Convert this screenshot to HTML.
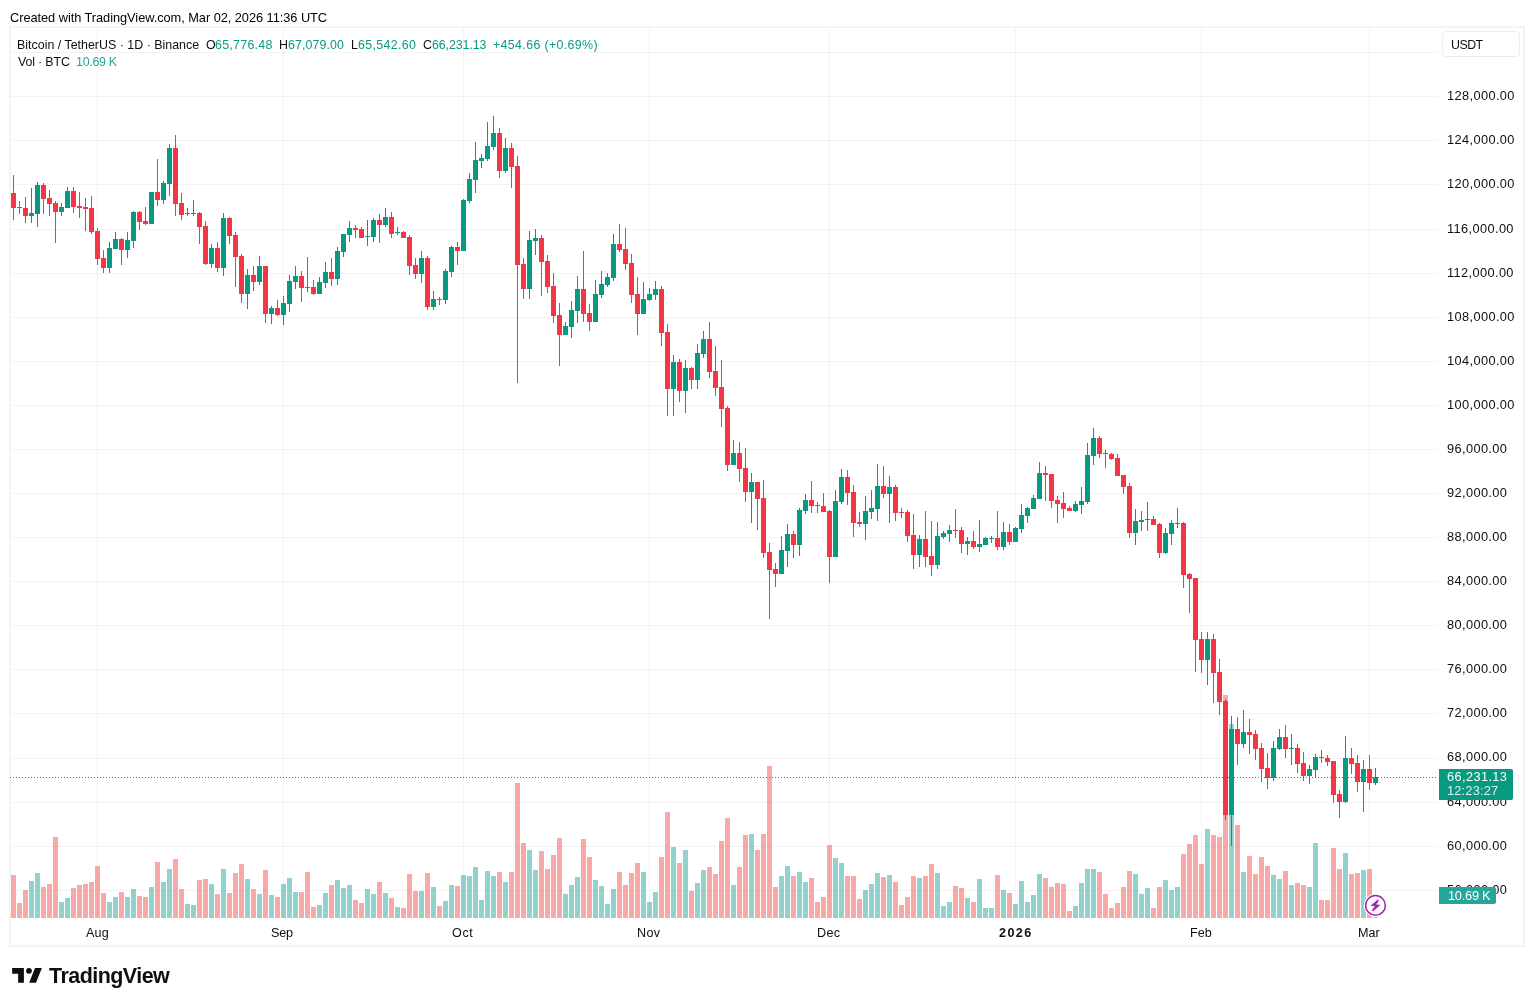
<!DOCTYPE html><html lang="en"><head><meta charset="utf-8"><title>BTCUSDT</title><style>
html,body{margin:0;padding:0;background:#fff;}
body{width:1534px;height:1006px;position:relative;overflow:hidden;font-family:"Liberation Sans",sans-serif;color:#0f0f0f;}
.t{position:absolute;white-space:nowrap;line-height:20px;height:20px;will-change:transform;}
</style></head><body>
<svg width="1534" height="1006" viewBox="0 0 1534 1006" shape-rendering="crispEdges" style="position:absolute;left:0;top:0">
<path fill="rgba(46,46,46,0.06)" d="M11 52h1427v1h-1427zM11 96h1427v1h-1427zM11 140h1427v1h-1427zM11 184h1427v1h-1427zM11 229h1427v1h-1427zM11 273h1427v1h-1427zM11 317h1427v1h-1427zM11 361h1427v1h-1427zM11 405h1427v1h-1427zM11 449h1427v1h-1427zM11 493h1427v1h-1427zM11 537h1427v1h-1427zM11 581h1427v1h-1427zM11 625h1427v1h-1427zM11 669h1427v1h-1427zM11 713h1427v1h-1427zM11 758h1427v1h-1427zM11 802h1427v1h-1427zM11 846h1427v1h-1427zM11 890h1427v1h-1427z"/>
<path fill="rgba(46,46,46,0.06)" d="M97 28h1v890h-1zM283 28h1v890h-1zM463 28h1v890h-1zM649 28h1v890h-1zM829 28h1v890h-1zM1015 28h1v890h-1zM1201 28h1v890h-1zM1369 28h1v890h-1z"/>
<path fill="rgba(38,166,154,0.5)" d="M29 881h5v37h-5zM35 873h5v45h-5zM59 902h5v16h-5zM65 898h5v20h-5zM107 902h5v16h-5zM113 897h5v21h-5zM125 897h5v21h-5zM131 889h5v29h-5zM149 887h5v31h-5zM161 882h5v36h-5zM167 869h5v49h-5zM185 904h5v14h-5zM191 905h5v13h-5zM209 884h5v34h-5zM221 869h5v49h-5zM245 879h5v39h-5zM257 894h5v24h-5zM269 895h5v23h-5zM281 884h5v34h-5zM287 878h5v40h-5zM293 892h5v26h-5zM317 905h5v13h-5zM323 893h5v25h-5zM335 880h5v38h-5zM341 888h5v30h-5zM347 885h5v33h-5zM365 889h5v29h-5zM371 894h5v24h-5zM383 893h5v25h-5zM395 907h5v11h-5zM419 891h5v27h-5zM431 887h5v31h-5zM443 901h5v17h-5zM449 885h5v33h-5zM461 875h5v43h-5zM467 876h5v42h-5zM473 867h5v51h-5zM479 900h5v18h-5zM485 871h5v47h-5zM491 876h5v42h-5zM503 882h5v36h-5zM527 850h5v68h-5zM533 870h5v48h-5zM563 894h5v24h-5zM569 885h5v33h-5zM575 877h5v41h-5zM593 880h5v38h-5zM599 886h5v32h-5zM605 904h5v14h-5zM611 889h5v29h-5zM641 872h5v46h-5zM647 902h5v16h-5zM653 892h5v26h-5zM671 847h5v71h-5zM683 850h5v68h-5zM695 883h5v35h-5zM701 870h5v48h-5zM731 885h5v33h-5zM749 834h5v84h-5zM779 876h5v42h-5zM785 866h5v52h-5zM797 872h5v46h-5zM803 882h5v36h-5zM833 858h5v60h-5zM839 863h5v55h-5zM863 890h5v28h-5zM869 884h5v34h-5zM875 873h5v45h-5zM887 875h5v43h-5zM917 878h5v40h-5zM935 873h5v45h-5zM941 906h5v12h-5zM947 902h5v16h-5zM965 898h5v20h-5zM977 879h5v39h-5zM983 908h5v10h-5zM989 908h5v10h-5zM1001 890h5v28h-5zM1013 904h5v14h-5zM1019 881h5v37h-5zM1025 902h5v16h-5zM1031 895h5v23h-5zM1037 874h5v44h-5zM1073 906h5v12h-5zM1079 883h5v35h-5zM1085 869h5v49h-5zM1091 869h5v49h-5zM1133 874h5v44h-5zM1139 894h5v24h-5zM1145 888h5v30h-5zM1163 880h5v38h-5zM1169 890h5v28h-5zM1175 887h5v31h-5zM1205 829h5v89h-5zM1229 724h5v194h-5zM1241 872h5v46h-5zM1271 875h5v43h-5zM1277 879h5v39h-5zM1289 885h5v33h-5zM1307 887h5v31h-5zM1313 843h5v75h-5zM1343 853h5v65h-5zM1361 870h5v48h-5zM1373 917h5v1h-5z"/>
<path fill="rgba(239,83,80,0.5)" d="M11 875h5v43h-5zM17 903h5v15h-5zM23 890h5v28h-5zM41 887h5v31h-5zM47 884h5v34h-5zM53 837h5v81h-5zM71 888h5v30h-5zM77 885h5v33h-5zM83 884h5v34h-5zM89 882h5v36h-5zM95 866h5v52h-5zM101 893h5v25h-5zM119 892h5v26h-5zM137 896h5v22h-5zM143 897h5v21h-5zM155 862h5v56h-5zM173 859h5v59h-5zM179 889h5v29h-5zM197 880h5v38h-5zM203 879h5v39h-5zM215 894h5v24h-5zM227 893h5v25h-5zM233 873h5v45h-5zM239 864h5v54h-5zM251 889h5v29h-5zM263 870h5v48h-5zM275 897h5v21h-5zM299 892h5v26h-5zM305 872h5v46h-5zM311 907h5v11h-5zM329 885h5v33h-5zM353 900h5v18h-5zM359 903h5v15h-5zM377 882h5v36h-5zM389 898h5v20h-5zM401 908h5v10h-5zM407 874h5v44h-5zM413 891h5v27h-5zM425 873h5v45h-5zM437 906h5v12h-5zM455 886h5v32h-5zM497 872h5v46h-5zM509 872h5v46h-5zM515 783h5v135h-5zM521 843h5v75h-5zM539 851h5v67h-5zM545 869h5v49h-5zM551 855h5v63h-5zM557 838h5v80h-5zM581 839h5v79h-5zM587 857h5v61h-5zM617 872h5v46h-5zM623 885h5v33h-5zM629 873h5v45h-5zM635 863h5v55h-5zM659 857h5v61h-5zM665 812h5v106h-5zM677 863h5v55h-5zM689 891h5v27h-5zM707 867h5v51h-5zM713 874h5v44h-5zM719 841h5v77h-5zM725 818h5v100h-5zM737 867h5v51h-5zM743 835h5v83h-5zM755 850h5v68h-5zM761 834h5v84h-5zM767 766h5v152h-5zM773 887h5v31h-5zM791 876h5v42h-5zM809 878h5v40h-5zM815 902h5v16h-5zM821 897h5v21h-5zM827 845h5v73h-5zM845 876h5v42h-5zM851 876h5v42h-5zM857 899h5v19h-5zM881 877h5v41h-5zM893 882h5v36h-5zM899 905h5v13h-5zM905 897h5v21h-5zM911 876h5v42h-5zM923 876h5v42h-5zM929 864h5v54h-5zM953 886h5v32h-5zM959 888h5v30h-5zM971 902h5v16h-5zM995 875h5v43h-5zM1007 893h5v25h-5zM1043 878h5v40h-5zM1049 887h5v31h-5zM1055 883h5v35h-5zM1061 884h5v34h-5zM1067 911h5v7h-5zM1097 872h5v46h-5zM1103 894h5v24h-5zM1109 908h5v10h-5zM1115 903h5v15h-5zM1121 887h5v31h-5zM1127 871h5v47h-5zM1151 908h5v10h-5zM1157 887h5v31h-5zM1181 854h5v64h-5zM1187 844h5v74h-5zM1193 835h5v83h-5zM1199 864h5v54h-5zM1211 835h5v83h-5zM1217 837h5v81h-5zM1223 695h5v223h-5zM1235 825h5v93h-5zM1247 856h5v62h-5zM1253 874h5v44h-5zM1259 857h5v61h-5zM1265 866h5v52h-5zM1283 871h5v47h-5zM1295 883h5v35h-5zM1301 885h5v33h-5zM1319 900h5v18h-5zM1325 900h5v18h-5zM1331 848h5v70h-5zM1337 869h5v49h-5zM1349 874h5v44h-5zM1355 873h5v45h-5zM1367 869h5v49h-5z"/>
<path fill="#089981" d="M29 213h5v3h-5zM31 188h1v35h-1zM35 185h5v29h-5zM37 182h1v45h-1zM59 207h5v5h-5zM61 203h1v13h-1zM65 191h5v17h-5zM67 187h1v21h-1zM107 248h5v20h-5zM109 242h1v31h-1zM113 239h5v10h-5zM115 232h1v17h-1zM125 240h5v10h-5zM127 232h1v26h-1zM131 212h5v29h-5zM133 211h1v37h-1zM149 192h5v32h-5zM151 192h1v32h-1zM161 183h5v17h-5zM163 181h1v23h-1zM167 148h5v36h-5zM169 144h1v52h-1zM185 213h5v1h-5zM187 208h1v8h-1zM191 213h5v1h-5zM193 200h1v16h-1zM209 248h5v16h-5zM211 244h1v24h-1zM221 218h5v50h-5zM223 213h1v63h-1zM245 275h5v19h-5zM247 269h1v40h-1zM257 266h5v16h-5zM259 256h1v29h-1zM269 308h5v6h-5zM271 306h1v18h-1zM281 303h5v12h-5zM283 296h1v29h-1zM287 281h5v23h-5zM289 275h1v37h-1zM293 276h5v6h-5zM295 266h1v23h-1zM317 282h5v12h-5zM319 277h1v17h-1zM323 272h5v11h-5zM325 262h1v26h-1zM335 251h5v28h-5zM337 247h1v38h-1zM341 234h5v18h-5zM343 234h1v23h-1zM347 228h5v7h-5zM349 221h1v21h-1zM365 236h5v1h-5zM367 220h1v26h-1zM371 220h5v17h-5zM373 218h1v24h-1zM383 217h5v8h-5zM385 208h1v19h-1zM395 232h5v1h-5zM397 227h1v8h-1zM419 258h5v16h-5zM421 251h1v32h-1zM431 299h5v8h-5zM433 291h1v19h-1zM443 271h5v29h-5zM445 269h1v35h-1zM449 247h5v25h-5zM451 246h1v31h-1zM461 200h5v51h-5zM463 199h1v52h-1zM467 179h5v22h-5zM469 173h1v30h-1zM473 160h5v20h-5zM475 142h1v51h-1zM479 158h5v3h-5zM481 154h1v14h-1zM485 146h5v13h-5zM487 122h1v39h-1zM491 133h5v14h-5zM493 116h1v34h-1zM503 148h5v23h-5zM505 138h1v35h-1zM527 240h5v49h-5zM529 231h1v68h-1zM533 238h5v3h-5zM535 229h1v26h-1zM563 326h5v9h-5zM565 322h1v13h-1zM569 310h5v17h-5zM571 301h1v37h-1zM575 289h5v22h-5zM577 276h1v47h-1zM593 294h5v28h-5zM595 280h1v42h-1zM599 284h5v11h-5zM601 271h1v27h-1zM605 277h5v8h-5zM607 273h1v14h-1zM611 244h5v34h-5zM613 234h1v47h-1zM641 299h5v15h-5zM643 282h1v32h-1zM647 294h5v6h-5zM649 288h1v13h-1zM653 289h5v6h-5zM655 281h1v19h-1zM671 362h5v27h-5zM673 355h1v61h-1zM683 368h5v23h-5zM685 360h1v53h-1zM695 353h5v27h-5zM697 344h1v45h-1zM701 339h5v15h-5zM703 331h1v27h-1zM731 453h5v12h-5zM733 440h1v25h-1zM749 482h5v10h-5zM751 473h1v50h-1zM779 550h5v24h-5zM781 536h1v38h-1zM785 534h5v17h-5zM787 524h1v43h-1zM797 510h5v35h-5zM799 508h1v48h-1zM803 500h5v11h-5zM805 494h1v20h-1zM833 501h5v56h-5zM835 490h1v67h-1zM839 477h5v25h-5zM841 469h1v35h-1zM863 511h5v13h-5zM865 496h1v44h-1zM869 508h5v4h-5zM871 490h1v29h-1zM875 486h5v23h-5zM877 464h1v57h-1zM887 487h5v7h-5zM889 476h1v47h-1zM917 539h5v16h-5zM919 535h1v32h-1zM935 536h5v29h-5zM937 522h1v47h-1zM941 533h5v4h-5zM943 531h1v8h-1zM947 530h5v4h-5zM949 525h1v17h-1zM965 541h5v3h-5zM967 537h1v18h-1zM977 544h5v3h-5zM979 520h1v32h-1zM983 538h5v7h-5zM985 537h1v8h-1zM989 538h5v1h-5zM991 536h1v7h-1zM1001 532h5v15h-5zM1003 522h1v28h-1zM1013 528h5v14h-5zM1015 527h1v15h-1zM1019 515h5v14h-5zM1021 504h1v29h-1zM1025 508h5v8h-5zM1027 507h1v16h-1zM1031 498h5v11h-5zM1033 495h1v14h-1zM1037 473h5v26h-5zM1039 462h1v37h-1zM1073 504h5v7h-5zM1075 501h1v11h-1zM1079 501h5v4h-5zM1081 487h1v27h-1zM1085 455h5v47h-5zM1087 443h1v61h-1zM1091 438h5v18h-5zM1093 428h1v37h-1zM1133 521h5v12h-5zM1135 509h1v36h-1zM1139 520h5v2h-5zM1141 511h1v20h-1zM1145 519h5v1h-5zM1147 502h1v29h-1zM1163 533h5v20h-5zM1165 528h1v26h-1zM1169 523h5v11h-5zM1171 520h1v25h-1zM1175 523h5v1h-5zM1177 508h1v20h-1zM1205 639h5v21h-5zM1207 632h1v53h-1zM1229 729h5v86h-5zM1231 716h1v130h-1zM1241 732h5v12h-5zM1243 710h1v38h-1zM1271 748h5v30h-5zM1273 741h1v40h-1zM1277 737h5v12h-5zM1279 729h1v21h-1zM1289 748h5v1h-5zM1291 734h1v31h-1zM1307 769h5v7h-5zM1309 765h1v19h-1zM1313 757h5v13h-5zM1315 754h1v24h-1zM1343 758h5v44h-5zM1345 736h1v67h-1zM1361 769h5v13h-5zM1363 760h1v52h-1zM1373 777h5v6h-5zM1375 768h1v17h-1z"/>
<path fill="#f23645" d="M11 193h5v15h-5zM13 175h1v45h-1zM17 207h5v1h-5zM19 201h1v13h-1zM23 208h5v8h-5zM25 197h1v26h-1zM41 185h5v14h-5zM43 183h1v31h-1zM47 198h5v6h-5zM49 190h1v26h-1zM53 203h5v9h-5zM55 201h1v42h-1zM71 191h5v16h-5zM73 187h1v26h-1zM77 206h5v2h-5zM79 192h1v26h-1zM83 207h5v2h-5zM85 198h1v33h-1zM89 208h5v24h-5zM91 196h1v38h-1zM95 231h5v28h-5zM97 228h1v37h-1zM101 258h5v10h-5zM103 250h1v23h-1zM119 239h5v11h-5zM121 238h1v27h-1zM137 212h5v10h-5zM139 211h1v19h-1zM143 221h5v3h-5zM145 207h1v18h-1zM155 192h5v8h-5zM157 159h1v47h-1zM173 148h5v56h-5zM175 135h1v81h-1zM179 203h5v12h-5zM181 193h1v27h-1zM197 213h5v14h-5zM199 212h1v32h-1zM203 226h5v38h-5zM205 221h1v44h-1zM215 248h5v20h-5zM217 242h1v30h-1zM227 218h5v18h-5zM229 217h1v27h-1zM233 235h5v22h-5zM235 232h1v55h-1zM239 256h5v38h-5zM241 254h1v49h-1zM251 275h5v7h-5zM253 266h1v25h-1zM263 266h5v48h-5zM265 266h1v57h-1zM275 308h5v7h-5zM277 300h1v16h-1zM299 276h5v12h-5zM301 271h1v31h-1zM305 287h5v1h-5zM307 257h1v35h-1zM311 287h5v7h-5zM313 280h1v15h-1zM329 272h5v7h-5zM331 258h1v28h-1zM353 228h5v2h-5zM355 225h1v13h-1zM359 229h5v9h-5zM361 227h1v11h-1zM377 220h5v5h-5zM379 214h1v29h-1zM389 217h5v17h-5zM391 212h1v26h-1zM401 232h5v6h-5zM403 231h1v7h-1zM407 237h5v29h-5zM409 235h1v40h-1zM413 265h5v9h-5zM415 258h1v21h-1zM425 258h5v49h-5zM427 256h1v54h-1zM437 299h5v1h-5zM439 297h1v8h-1zM455 247h5v4h-5zM457 242h1v23h-1zM497 133h5v38h-5zM499 128h1v50h-1zM509 148h5v19h-5zM511 143h1v45h-1zM515 166h5v99h-5zM517 156h1v227h-1zM521 264h5v25h-5zM523 258h1v41h-1zM539 238h5v24h-5zM541 235h1v61h-1zM545 261h5v26h-5zM547 255h1v38h-1zM551 286h5v30h-5zM553 273h1v50h-1zM557 315h5v20h-5zM559 303h1v63h-1zM581 289h5v25h-5zM583 251h1v71h-1zM587 313h5v9h-5zM589 304h1v27h-1zM617 244h5v6h-5zM619 224h1v28h-1zM623 249h5v15h-5zM625 228h1v42h-1zM629 263h5v32h-5zM631 254h1v49h-1zM635 294h5v20h-5zM637 277h1v58h-1zM659 289h5v44h-5zM661 286h1v60h-1zM665 332h5v57h-5zM667 324h1v92h-1zM677 362h5v29h-5zM679 359h1v43h-1zM689 368h5v12h-5zM691 367h1v22h-1zM707 339h5v33h-5zM709 322h1v56h-1zM713 371h5v17h-5zM715 346h1v50h-1zM719 387h5v22h-5zM721 360h1v67h-1zM725 408h5v57h-5zM727 406h1v65h-1zM737 453h5v16h-5zM739 442h1v40h-1zM743 468h5v24h-5zM745 448h1v54h-1zM755 482h5v17h-5zM757 482h1v48h-1zM761 498h5v55h-5zM763 480h1v78h-1zM767 552h5v18h-5zM769 543h1v76h-1zM773 569h5v5h-5zM775 563h1v24h-1zM791 534h5v11h-5zM793 531h1v27h-1zM809 500h5v6h-5zM811 481h1v32h-1zM815 505h5v1h-5zM817 502h1v11h-1zM821 506h5v6h-5zM823 493h1v19h-1zM827 511h5v46h-5zM829 510h1v73h-1zM845 477h5v16h-5zM847 470h1v35h-1zM851 492h5v31h-5zM853 485h1v52h-1zM857 522h5v2h-5zM859 512h1v15h-1zM881 486h5v8h-5zM883 466h1v32h-1zM893 487h5v26h-5zM895 485h1v36h-1zM899 512h5v1h-5zM901 508h1v10h-1zM905 512h5v24h-5zM907 510h1v32h-1zM911 535h5v20h-5zM913 514h1v55h-1zM923 539h5v18h-5zM925 511h1v56h-1zM929 556h5v9h-5zM931 521h1v55h-1zM953 530h5v1h-5zM955 509h1v29h-1zM959 530h5v14h-5zM961 527h1v26h-1zM971 541h5v6h-5zM973 531h1v18h-1zM995 538h5v9h-5zM997 511h1v39h-1zM1007 532h5v10h-5zM1009 524h1v21h-1zM1043 473h5v2h-5zM1045 466h1v35h-1zM1049 474h5v27h-5zM1051 474h1v34h-1zM1055 500h5v4h-5zM1057 496h1v27h-1zM1061 503h5v6h-5zM1063 492h1v26h-1zM1067 508h5v3h-5zM1069 506h1v5h-1zM1097 438h5v16h-5zM1099 436h1v22h-1zM1103 453h5v1h-5zM1105 450h1v18h-1zM1109 454h5v5h-5zM1111 453h1v7h-1zM1115 458h5v18h-5zM1117 454h1v22h-1zM1121 475h5v12h-5zM1123 475h1v19h-1zM1127 486h5v47h-5zM1129 483h1v55h-1zM1151 519h5v6h-5zM1153 516h1v9h-1zM1157 524h5v29h-5zM1159 523h1v35h-1zM1181 523h5v52h-5zM1183 522h1v66h-1zM1187 574h5v5h-5zM1189 573h1v40h-1zM1193 578h5v62h-5zM1195 578h1v94h-1zM1199 639h5v21h-5zM1201 632h1v41h-1zM1211 639h5v34h-5zM1213 634h1v69h-1zM1217 672h5v30h-5zM1219 659h1v56h-1zM1223 701h5v114h-5zM1225 699h1v121h-1zM1235 729h5v15h-5zM1237 717h1v48h-1zM1247 732h5v3h-5zM1249 719h1v35h-1zM1253 734h5v15h-5zM1255 730h1v30h-1zM1259 748h5v21h-5zM1261 743h1v39h-1zM1265 768h5v10h-5zM1267 753h1v36h-1zM1283 737h5v12h-5zM1285 725h1v33h-1zM1295 748h5v16h-5zM1297 744h1v29h-1zM1301 763h5v13h-5zM1303 752h1v29h-1zM1319 757h5v1h-5zM1321 750h1v13h-1zM1325 758h5v4h-5zM1327 755h1v11h-1zM1331 761h5v34h-5zM1333 761h1v42h-1zM1337 794h5v8h-5zM1339 790h1v28h-1zM1349 758h5v6h-5zM1351 748h1v26h-1zM1355 763h5v19h-5zM1357 755h1v37h-1zM1367 769h5v14h-5zM1369 755h1v35h-1z"/>
<path fill="#089981" d="M10 777h1v1h-1zM13 777h1v1h-1zM16 777h1v1h-1zM19 777h1v1h-1zM22 777h1v1h-1zM25 777h1v1h-1zM28 777h1v1h-1zM31 777h1v1h-1zM34 777h1v1h-1zM37 777h1v1h-1zM40 777h1v1h-1zM43 777h1v1h-1zM46 777h1v1h-1zM49 777h1v1h-1zM52 777h1v1h-1zM55 777h1v1h-1zM58 777h1v1h-1zM61 777h1v1h-1zM64 777h1v1h-1zM67 777h1v1h-1zM70 777h1v1h-1zM73 777h1v1h-1zM76 777h1v1h-1zM79 777h1v1h-1zM82 777h1v1h-1zM85 777h1v1h-1zM88 777h1v1h-1zM91 777h1v1h-1zM94 777h1v1h-1zM97 777h1v1h-1zM100 777h1v1h-1zM103 777h1v1h-1zM106 777h1v1h-1zM109 777h1v1h-1zM112 777h1v1h-1zM115 777h1v1h-1zM118 777h1v1h-1zM121 777h1v1h-1zM124 777h1v1h-1zM127 777h1v1h-1zM130 777h1v1h-1zM133 777h1v1h-1zM136 777h1v1h-1zM139 777h1v1h-1zM142 777h1v1h-1zM145 777h1v1h-1zM148 777h1v1h-1zM151 777h1v1h-1zM154 777h1v1h-1zM157 777h1v1h-1zM160 777h1v1h-1zM163 777h1v1h-1zM166 777h1v1h-1zM169 777h1v1h-1zM172 777h1v1h-1zM175 777h1v1h-1zM178 777h1v1h-1zM181 777h1v1h-1zM184 777h1v1h-1zM187 777h1v1h-1zM190 777h1v1h-1zM193 777h1v1h-1zM196 777h1v1h-1zM199 777h1v1h-1zM202 777h1v1h-1zM205 777h1v1h-1zM208 777h1v1h-1zM211 777h1v1h-1zM214 777h1v1h-1zM217 777h1v1h-1zM220 777h1v1h-1zM223 777h1v1h-1zM226 777h1v1h-1zM229 777h1v1h-1zM232 777h1v1h-1zM235 777h1v1h-1zM238 777h1v1h-1zM241 777h1v1h-1zM244 777h1v1h-1zM247 777h1v1h-1zM250 777h1v1h-1zM253 777h1v1h-1zM256 777h1v1h-1zM259 777h1v1h-1zM262 777h1v1h-1zM265 777h1v1h-1zM268 777h1v1h-1zM271 777h1v1h-1zM274 777h1v1h-1zM277 777h1v1h-1zM280 777h1v1h-1zM283 777h1v1h-1zM286 777h1v1h-1zM289 777h1v1h-1zM292 777h1v1h-1zM295 777h1v1h-1zM298 777h1v1h-1zM301 777h1v1h-1zM304 777h1v1h-1zM307 777h1v1h-1zM310 777h1v1h-1zM313 777h1v1h-1zM316 777h1v1h-1zM319 777h1v1h-1zM322 777h1v1h-1zM325 777h1v1h-1zM328 777h1v1h-1zM331 777h1v1h-1zM334 777h1v1h-1zM337 777h1v1h-1zM340 777h1v1h-1zM343 777h1v1h-1zM346 777h1v1h-1zM349 777h1v1h-1zM352 777h1v1h-1zM355 777h1v1h-1zM358 777h1v1h-1zM361 777h1v1h-1zM364 777h1v1h-1zM367 777h1v1h-1zM370 777h1v1h-1zM373 777h1v1h-1zM376 777h1v1h-1zM379 777h1v1h-1zM382 777h1v1h-1zM385 777h1v1h-1zM388 777h1v1h-1zM391 777h1v1h-1zM394 777h1v1h-1zM397 777h1v1h-1zM400 777h1v1h-1zM403 777h1v1h-1zM406 777h1v1h-1zM409 777h1v1h-1zM412 777h1v1h-1zM415 777h1v1h-1zM418 777h1v1h-1zM421 777h1v1h-1zM424 777h1v1h-1zM427 777h1v1h-1zM430 777h1v1h-1zM433 777h1v1h-1zM436 777h1v1h-1zM439 777h1v1h-1zM442 777h1v1h-1zM445 777h1v1h-1zM448 777h1v1h-1zM451 777h1v1h-1zM454 777h1v1h-1zM457 777h1v1h-1zM460 777h1v1h-1zM463 777h1v1h-1zM466 777h1v1h-1zM469 777h1v1h-1zM472 777h1v1h-1zM475 777h1v1h-1zM478 777h1v1h-1zM481 777h1v1h-1zM484 777h1v1h-1zM487 777h1v1h-1zM490 777h1v1h-1zM493 777h1v1h-1zM496 777h1v1h-1zM499 777h1v1h-1zM502 777h1v1h-1zM505 777h1v1h-1zM508 777h1v1h-1zM511 777h1v1h-1zM514 777h1v1h-1zM517 777h1v1h-1zM520 777h1v1h-1zM523 777h1v1h-1zM526 777h1v1h-1zM529 777h1v1h-1zM532 777h1v1h-1zM535 777h1v1h-1zM538 777h1v1h-1zM541 777h1v1h-1zM544 777h1v1h-1zM547 777h1v1h-1zM550 777h1v1h-1zM553 777h1v1h-1zM556 777h1v1h-1zM559 777h1v1h-1zM562 777h1v1h-1zM565 777h1v1h-1zM568 777h1v1h-1zM571 777h1v1h-1zM574 777h1v1h-1zM577 777h1v1h-1zM580 777h1v1h-1zM583 777h1v1h-1zM586 777h1v1h-1zM589 777h1v1h-1zM592 777h1v1h-1zM595 777h1v1h-1zM598 777h1v1h-1zM601 777h1v1h-1zM604 777h1v1h-1zM607 777h1v1h-1zM610 777h1v1h-1zM613 777h1v1h-1zM616 777h1v1h-1zM619 777h1v1h-1zM622 777h1v1h-1zM625 777h1v1h-1zM628 777h1v1h-1zM631 777h1v1h-1zM634 777h1v1h-1zM637 777h1v1h-1zM640 777h1v1h-1zM643 777h1v1h-1zM646 777h1v1h-1zM649 777h1v1h-1zM652 777h1v1h-1zM655 777h1v1h-1zM658 777h1v1h-1zM661 777h1v1h-1zM664 777h1v1h-1zM667 777h1v1h-1zM670 777h1v1h-1zM673 777h1v1h-1zM676 777h1v1h-1zM679 777h1v1h-1zM682 777h1v1h-1zM685 777h1v1h-1zM688 777h1v1h-1zM691 777h1v1h-1zM694 777h1v1h-1zM697 777h1v1h-1zM700 777h1v1h-1zM703 777h1v1h-1zM706 777h1v1h-1zM709 777h1v1h-1zM712 777h1v1h-1zM715 777h1v1h-1zM718 777h1v1h-1zM721 777h1v1h-1zM724 777h1v1h-1zM727 777h1v1h-1zM730 777h1v1h-1zM733 777h1v1h-1zM736 777h1v1h-1zM739 777h1v1h-1zM742 777h1v1h-1zM745 777h1v1h-1zM748 777h1v1h-1zM751 777h1v1h-1zM754 777h1v1h-1zM757 777h1v1h-1zM760 777h1v1h-1zM763 777h1v1h-1zM766 777h1v1h-1zM769 777h1v1h-1zM772 777h1v1h-1zM775 777h1v1h-1zM778 777h1v1h-1zM781 777h1v1h-1zM784 777h1v1h-1zM787 777h1v1h-1zM790 777h1v1h-1zM793 777h1v1h-1zM796 777h1v1h-1zM799 777h1v1h-1zM802 777h1v1h-1zM805 777h1v1h-1zM808 777h1v1h-1zM811 777h1v1h-1zM814 777h1v1h-1zM817 777h1v1h-1zM820 777h1v1h-1zM823 777h1v1h-1zM826 777h1v1h-1zM829 777h1v1h-1zM832 777h1v1h-1zM835 777h1v1h-1zM838 777h1v1h-1zM841 777h1v1h-1zM844 777h1v1h-1zM847 777h1v1h-1zM850 777h1v1h-1zM853 777h1v1h-1zM856 777h1v1h-1zM859 777h1v1h-1zM862 777h1v1h-1zM865 777h1v1h-1zM868 777h1v1h-1zM871 777h1v1h-1zM874 777h1v1h-1zM877 777h1v1h-1zM880 777h1v1h-1zM883 777h1v1h-1zM886 777h1v1h-1zM889 777h1v1h-1zM892 777h1v1h-1zM895 777h1v1h-1zM898 777h1v1h-1zM901 777h1v1h-1zM904 777h1v1h-1zM907 777h1v1h-1zM910 777h1v1h-1zM913 777h1v1h-1zM916 777h1v1h-1zM919 777h1v1h-1zM922 777h1v1h-1zM925 777h1v1h-1zM928 777h1v1h-1zM931 777h1v1h-1zM934 777h1v1h-1zM937 777h1v1h-1zM940 777h1v1h-1zM943 777h1v1h-1zM946 777h1v1h-1zM949 777h1v1h-1zM952 777h1v1h-1zM955 777h1v1h-1zM958 777h1v1h-1zM961 777h1v1h-1zM964 777h1v1h-1zM967 777h1v1h-1zM970 777h1v1h-1zM973 777h1v1h-1zM976 777h1v1h-1zM979 777h1v1h-1zM982 777h1v1h-1zM985 777h1v1h-1zM988 777h1v1h-1zM991 777h1v1h-1zM994 777h1v1h-1zM997 777h1v1h-1zM1000 777h1v1h-1zM1003 777h1v1h-1zM1006 777h1v1h-1zM1009 777h1v1h-1zM1012 777h1v1h-1zM1015 777h1v1h-1zM1018 777h1v1h-1zM1021 777h1v1h-1zM1024 777h1v1h-1zM1027 777h1v1h-1zM1030 777h1v1h-1zM1033 777h1v1h-1zM1036 777h1v1h-1zM1039 777h1v1h-1zM1042 777h1v1h-1zM1045 777h1v1h-1zM1048 777h1v1h-1zM1051 777h1v1h-1zM1054 777h1v1h-1zM1057 777h1v1h-1zM1060 777h1v1h-1zM1063 777h1v1h-1zM1066 777h1v1h-1zM1069 777h1v1h-1zM1072 777h1v1h-1zM1075 777h1v1h-1zM1078 777h1v1h-1zM1081 777h1v1h-1zM1084 777h1v1h-1zM1087 777h1v1h-1zM1090 777h1v1h-1zM1093 777h1v1h-1zM1096 777h1v1h-1zM1099 777h1v1h-1zM1102 777h1v1h-1zM1105 777h1v1h-1zM1108 777h1v1h-1zM1111 777h1v1h-1zM1114 777h1v1h-1zM1117 777h1v1h-1zM1120 777h1v1h-1zM1123 777h1v1h-1zM1126 777h1v1h-1zM1129 777h1v1h-1zM1132 777h1v1h-1zM1135 777h1v1h-1zM1138 777h1v1h-1zM1141 777h1v1h-1zM1144 777h1v1h-1zM1147 777h1v1h-1zM1150 777h1v1h-1zM1153 777h1v1h-1zM1156 777h1v1h-1zM1159 777h1v1h-1zM1162 777h1v1h-1zM1165 777h1v1h-1zM1168 777h1v1h-1zM1171 777h1v1h-1zM1174 777h1v1h-1zM1177 777h1v1h-1zM1180 777h1v1h-1zM1183 777h1v1h-1zM1186 777h1v1h-1zM1189 777h1v1h-1zM1192 777h1v1h-1zM1195 777h1v1h-1zM1198 777h1v1h-1zM1201 777h1v1h-1zM1204 777h1v1h-1zM1207 777h1v1h-1zM1210 777h1v1h-1zM1213 777h1v1h-1zM1216 777h1v1h-1zM1219 777h1v1h-1zM1222 777h1v1h-1zM1225 777h1v1h-1zM1228 777h1v1h-1zM1231 777h1v1h-1zM1234 777h1v1h-1zM1237 777h1v1h-1zM1240 777h1v1h-1zM1243 777h1v1h-1zM1246 777h1v1h-1zM1249 777h1v1h-1zM1252 777h1v1h-1zM1255 777h1v1h-1zM1258 777h1v1h-1zM1261 777h1v1h-1zM1264 777h1v1h-1zM1267 777h1v1h-1zM1270 777h1v1h-1zM1273 777h1v1h-1zM1276 777h1v1h-1zM1279 777h1v1h-1zM1282 777h1v1h-1zM1285 777h1v1h-1zM1288 777h1v1h-1zM1291 777h1v1h-1zM1294 777h1v1h-1zM1297 777h1v1h-1zM1300 777h1v1h-1zM1303 777h1v1h-1zM1306 777h1v1h-1zM1309 777h1v1h-1zM1312 777h1v1h-1zM1315 777h1v1h-1zM1318 777h1v1h-1zM1321 777h1v1h-1zM1324 777h1v1h-1zM1327 777h1v1h-1zM1330 777h1v1h-1zM1333 777h1v1h-1zM1336 777h1v1h-1zM1339 777h1v1h-1zM1342 777h1v1h-1zM1345 777h1v1h-1zM1348 777h1v1h-1zM1351 777h1v1h-1zM1354 777h1v1h-1zM1357 777h1v1h-1zM1360 777h1v1h-1zM1363 777h1v1h-1zM1366 777h1v1h-1zM1369 777h1v1h-1zM1372 777h1v1h-1zM1375 777h1v1h-1zM1378 777h1v1h-1zM1381 777h1v1h-1zM1384 777h1v1h-1zM1387 777h1v1h-1zM1390 777h1v1h-1zM1393 777h1v1h-1zM1396 777h1v1h-1zM1399 777h1v1h-1zM1402 777h1v1h-1zM1405 777h1v1h-1zM1408 777h1v1h-1zM1411 777h1v1h-1zM1414 777h1v1h-1zM1417 777h1v1h-1zM1420 777h1v1h-1zM1423 777h1v1h-1zM1426 777h1v1h-1zM1429 777h1v1h-1zM1432 777h1v1h-1zM1435 777h1v1h-1z"/>
<path fill="rgba(46,46,46,0.055)" d="M9 26h1516v1h-1516zM9 946h1516v1h-1516zM9 27h1v919h-1zM1524 27h1v919h-1z"/>
<path fill="rgba(46,46,46,0.055)" d="M10 27h1514v1h-1514z"/>
<path fill="rgba(46,46,46,0.055)" d="M10 945h1514v1h-1514z"/>
<path fill="rgba(46,46,46,0.055)" d="M10 27h1v919h-1z"/>
<path fill="rgba(46,46,46,0.055)" d="M1523 27h1v919h-1z"/>
</svg>
<div class="t" style="left:9.71px;top:8px;font-size:12.8px;letter-spacing:-0.049px;color:#000;">Created with TradingView.com, Mar 02, 2026 11:36 UTC</div>
<div class="t" style="left:17.25px;top:35px;font-size:12.4px;letter-spacing:0.017px;color:#0f0f0f;">Bitcoin / TetherUS · 1D · Binance</div>
<div class="t" style="left:206.17px;top:35px;font-size:12.4px;letter-spacing:0.000px;color:#0f0f0f;">O</div>
<div class="t" style="left:215.44px;top:35px;font-size:12.4px;letter-spacing:0.280px;color:#089981;">65,776.48</div>
<div class="t" style="left:279.25px;top:35px;font-size:12.4px;letter-spacing:0.000px;color:#0f0f0f;">H</div>
<div class="t" style="left:288.44px;top:35px;font-size:12.4px;letter-spacing:0.111px;color:#089981;">67,079.00</div>
<div class="t" style="left:350.85px;top:35px;font-size:12.4px;letter-spacing:0.000px;color:#0f0f0f;">L</div>
<div class="t" style="left:358.04px;top:35px;font-size:12.4px;letter-spacing:0.361px;color:#089981;">65,542.60</div>
<div class="t" style="left:422.94px;top:35px;font-size:12.4px;letter-spacing:0.000px;color:#0f0f0f;">C</div>
<div class="t" style="left:431.54px;top:35px;font-size:12.4px;letter-spacing:-0.080px;color:#089981;">66,231.13</div>
<div class="t" style="left:493.17px;top:35px;font-size:12.4px;letter-spacing:0.361px;color:#089981;">+454.66 (+0.69%)</div>
<div class="t" style="left:18.07px;top:52px;font-size:12.4px;letter-spacing:-0.149px;color:#0f0f0f;">Vol · BTC</div>
<div class="t" style="left:75.65px;top:52px;font-size:12.4px;letter-spacing:-0.266px;color:#26a69a;">10.69 K</div>
<div class="t" style="left:1447.08px;top:86px;font-size:12.8px;letter-spacing:0.377px;color:#0f0f0f;">128,000.00</div>
<div class="t" style="left:1447.08px;top:130px;font-size:12.8px;letter-spacing:0.377px;color:#0f0f0f;">124,000.00</div>
<div class="t" style="left:1447.08px;top:174px;font-size:12.8px;letter-spacing:0.377px;color:#0f0f0f;">120,000.00</div>
<div class="t" style="left:1447.08px;top:219px;font-size:12.8px;letter-spacing:0.377px;color:#0f0f0f;">116,000.00</div>
<div class="t" style="left:1447.08px;top:263px;font-size:12.8px;letter-spacing:0.377px;color:#0f0f0f;">112,000.00</div>
<div class="t" style="left:1447.08px;top:307px;font-size:12.8px;letter-spacing:0.377px;color:#0f0f0f;">108,000.00</div>
<div class="t" style="left:1447.08px;top:351px;font-size:12.8px;letter-spacing:0.377px;color:#0f0f0f;">104,000.00</div>
<div class="t" style="left:1447.08px;top:395px;font-size:12.8px;letter-spacing:0.377px;color:#0f0f0f;">100,000.00</div>
<div class="t" style="left:1446.92px;top:439px;font-size:12.8px;letter-spacing:0.371px;color:#0f0f0f;">96,000.00</div>
<div class="t" style="left:1446.92px;top:483px;font-size:12.8px;letter-spacing:0.371px;color:#0f0f0f;">92,000.00</div>
<div class="t" style="left:1446.92px;top:527px;font-size:12.8px;letter-spacing:0.371px;color:#0f0f0f;">88,000.00</div>
<div class="t" style="left:1446.92px;top:571px;font-size:12.8px;letter-spacing:0.371px;color:#0f0f0f;">84,000.00</div>
<div class="t" style="left:1446.92px;top:615px;font-size:12.8px;letter-spacing:0.371px;color:#0f0f0f;">80,000.00</div>
<div class="t" style="left:1446.92px;top:659px;font-size:12.8px;letter-spacing:0.371px;color:#0f0f0f;">76,000.00</div>
<div class="t" style="left:1446.92px;top:703px;font-size:12.8px;letter-spacing:0.371px;color:#0f0f0f;">72,000.00</div>
<div class="t" style="left:1446.92px;top:747px;font-size:12.8px;letter-spacing:0.371px;color:#0f0f0f;">68,000.00</div>
<div class="t" style="left:1446.92px;top:792px;font-size:12.8px;letter-spacing:0.371px;color:#0f0f0f;">64,000.00</div>
<div class="t" style="left:1446.92px;top:836px;font-size:12.8px;letter-spacing:0.371px;color:#0f0f0f;">60,000.00</div>
<div class="t" style="left:1446.92px;top:880px;font-size:12.8px;letter-spacing:0.371px;color:#0f0f0f;">56,000.00</div>
<div style="position:absolute;left:1442px;top:31px;width:76px;height:24px;border:1px solid #ececec;border-radius:4px;"></div>
<div class="t" style="left:1450.53px;top:35px;font-size:12.4px;letter-spacing:-0.512px;color:#0f0f0f;">USDT</div>
<div style="position:absolute;left:1439px;top:769px;width:74px;height:31px;background:#089981;border-radius:0 2px 2px 0;"></div>
<div class="t" style="left:1446.92px;top:767px;font-size:12.8px;letter-spacing:0.379px;color:#fff;">66,231.13</div>
<div class="t" style="left:1447.18px;top:781px;font-size:12.8px;letter-spacing:0.183px;color:rgba(255,255,255,0.85);">12:23:27</div>
<div style="position:absolute;left:1439px;top:887px;width:57px;height:17px;background:#26a69a;border-radius:0 2px 2px 0;"></div>
<div class="t" style="left:1447.88px;top:886px;font-size:12.8px;letter-spacing:-0.251px;color:#fff;">10.69 K</div>
<div class="t" style="left:85.57px;top:923px;font-size:12.6px;letter-spacing:0.156px;color:#0f0f0f;">Aug</div>
<div class="t" style="left:271.47px;top:923px;font-size:12.6px;letter-spacing:-0.209px;color:#0f0f0f;">Sep</div>
<div class="t" style="left:452.37px;top:923px;font-size:12.6px;letter-spacing:0.614px;color:#0f0f0f;">Oct</div>
<div class="t" style="left:636.64px;top:923px;font-size:12.6px;letter-spacing:0.321px;color:#0f0f0f;">Nov</div>
<div class="t" style="left:817.24px;top:923px;font-size:12.6px;letter-spacing:0.360px;color:#0f0f0f;">Dec</div>
<div class="t" style="left:998.93px;top:923px;font-size:12.6px;letter-spacing:1.398px;color:#0f0f0f;font-weight:bold;">2026</div>
<div class="t" style="left:1189.74px;top:923px;font-size:12.6px;letter-spacing:-0.032px;color:#0f0f0f;">Feb</div>
<div class="t" style="left:1357.54px;top:923px;font-size:12.6px;letter-spacing:0.062px;color:#0f0f0f;">Mar</div>
<svg style="position:absolute;left:1363px;top:893px" width="25" height="25" viewBox="-12.5 -12.4 25 25"><circle cx="0" cy="0" r="11.6" fill="#fff"/><circle cx="0" cy="0" r="9.85" fill="#fff" stroke="#9c27b0" stroke-width="1.5"/><path d="M1.92 -5.38L3.46 -5.23L0.53 -0.6L4.07 -0.54L4.23 0.07L-2.24 5.72L-3.63 5.1L-0.4 0.48L-4.03 0.48L-4.25 -0.14Z" fill="#9c27b0" stroke="#9c27b0" stroke-width="0.3" stroke-linejoin="round"/></svg>
<svg style="position:absolute;left:0;top:960px" width="60" height="30" viewBox="0 960 60 30"><path fill="#0f0f0f" d="M12.15 968.1H23.9V982.8H18.13V973.8H12.15ZM35 968.1H41.87L36 982.8H29.16Z"/><circle cx="28.97" cy="970.85" r="2.93" fill="#0f0f0f"/></svg>
<div class="t" style="left:48.90px;top:966px;font-size:21.5px;letter-spacing:-0.548px;color:#0f0f0f;font-weight:bold;">TradingView</div>
</body></html>
